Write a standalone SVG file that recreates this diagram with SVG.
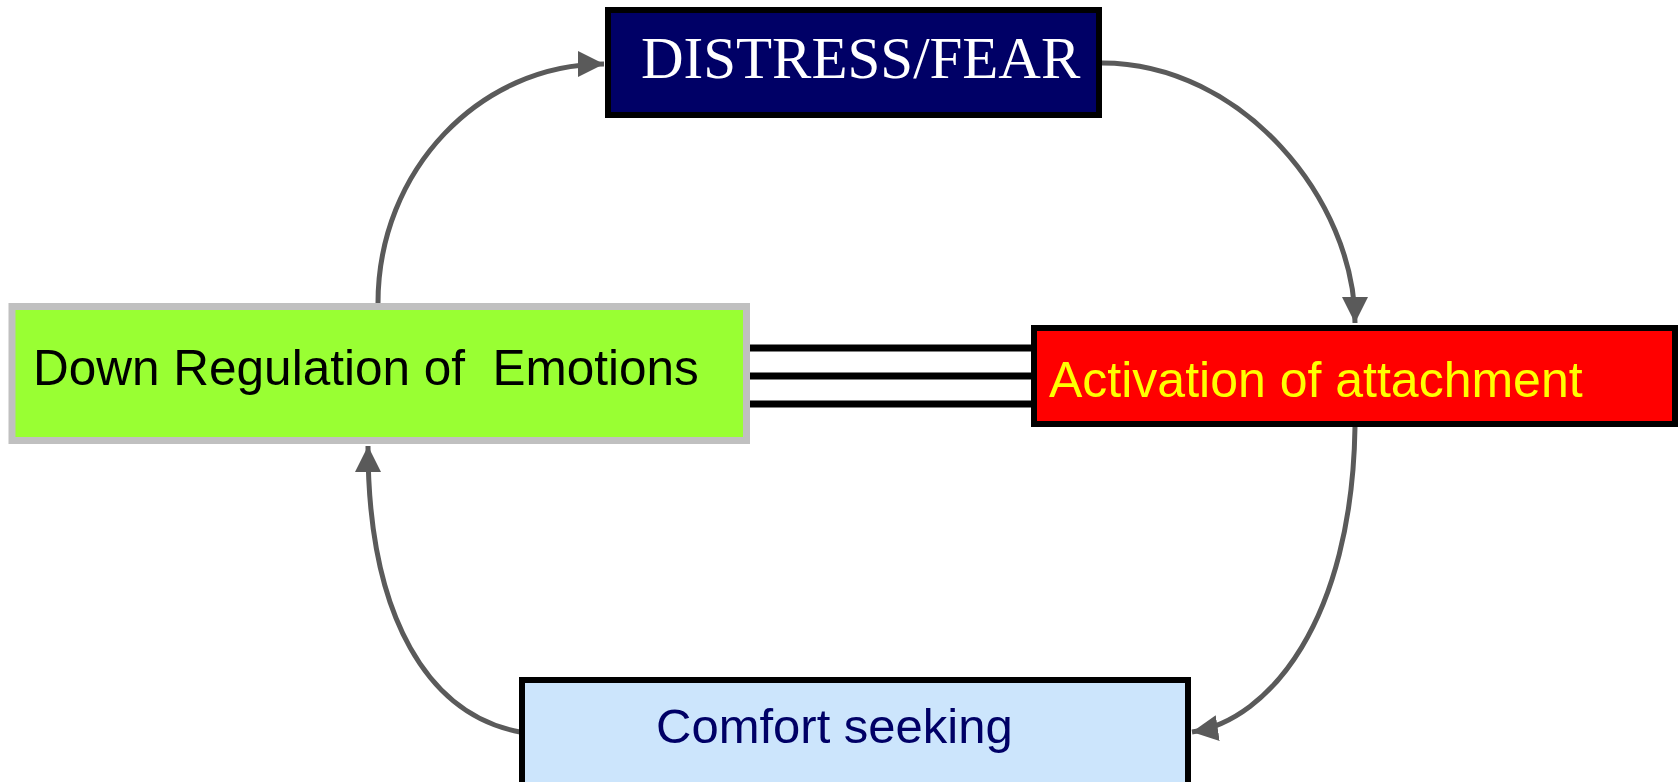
<svg xmlns="http://www.w3.org/2000/svg" width="1680" height="782" viewBox="0 0 1680 782">
  <style>
    .lbl { font-family: "Liberation Sans", Arial, sans-serif; white-space: pre; }
    .serif { font-family: "Liberation Serif", "Times New Roman", serif; }
    .conn { fill: none; stroke: #5a5a5a; stroke-width: 5; marker-end: url(#arrow); }
    .bar { stroke: #000000; stroke-width: 7; }
  </style>
  <defs>
    <marker id="arrow" markerUnits="userSpaceOnUse" markerWidth="26" markerHeight="26" refX="26" refY="13" orient="auto">
      <path d="M0,0 L26,13 L0,26 Z" fill="#5a5a5a"/>
    </marker>
  </defs>
  <rect width="1680" height="782" fill="#ffffff"/>

  <g id="connectors">
    <!-- cycle arrows -->
    <path class="conn" d="M378,303 C378,170 480,64 604,64"/>
    <path class="conn" d="M1102,63 C1242,63 1355,200 1355,323"/>
    <path class="conn" d="M1355,427 C1352,620 1270,720 1192,732"/>
    <path class="conn" d="M520,732 C430,715 368,620 368,446"/>
    <!-- triple link between the side boxes -->
    <line class="bar" x1="748" y1="348" x2="1034" y2="348"/>
    <line class="bar" x1="748" y1="376" x2="1034" y2="376"/>
    <line class="bar" x1="748" y1="404" x2="1034" y2="404"/>
  </g>

  <g id="distress">
    <rect x="608" y="10" width="491" height="105" fill="#000066" stroke="#000000" stroke-width="6"/>
    <text class="serif" x="641" y="78" font-size="59" fill="#ffffff">DISTRESS/FEAR</text>
  </g>

  <g id="down-regulation">
    <rect x="12" y="306.5" width="734.5" height="134" fill="#99ff33" stroke="#c0c0c0" stroke-width="7"/>
    <text class="lbl" x="33" y="385" font-size="49.5" fill="#000000">Down Regulation of  Emotions</text>
  </g>

  <g id="activation">
    <rect x="1034" y="328" width="641" height="96" fill="#ff0000" stroke="#000000" stroke-width="6"/>
    <text class="lbl" x="1049" y="397" font-size="50" fill="#ffff00">Activation of attachment</text>
  </g>

  <g id="comfort">
    <rect x="522" y="680" width="666" height="120" fill="#cce5fc" stroke="#000000" stroke-width="6"/>
    <text class="lbl" x="656" y="743" font-size="49" fill="#000066">Comfort seeking</text>
  </g>
</svg>
